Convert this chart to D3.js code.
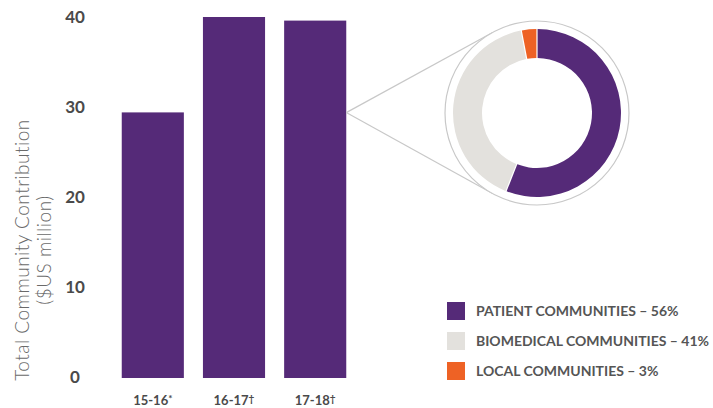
<!DOCTYPE html>
<html>
<head>
<meta charset="utf-8">
<script src="https://cdn.jsdelivr.net/npm/d3@7"></script>
<style>
  body { margin: 0; background: #fff; }
  svg { display: block; font-family: Lato, "Open Sans", sans-serif; }
</style>
</head>
<body>
<div id="chart"></div>
<script>
// bar data: fiscal years and total contribution ($US million)
const years = ["15-16", "16-17", "17-18"];
const yearMarks = ["*", "†", "†"];
const totals = [29.4, 40, 39.6];
const yTicks = [0, 10, 20, 30, 40];

// donut data: split of the latest year
const groups = ["PATIENT COMMUNITIES", "BIOMEDICAL COMMUNITIES", "LOCAL COMMUNITIES"];
const shares = [56, 41, 3];
const groupColors = ["#552a78", "#e3e1dd", "#ee6225"];

const width = 713, height = 408;

const svg = d3.select("#chart").append("svg")
  .attr("width", width)
  .attr("height", height);

const x = d3.scaleBand()
  .domain(years)
  .range([112, 356])
  .paddingInner(0.235)
  .paddingOuter(0.12);

const y = d3.scaleLinear()
  .domain([0, 40])
  .range([377, 17]);

// y tick labels (no axis line)
svg.append("g").selectAll("text")
  .data(yTicks)
  .join("text")
  .attr("x", 75)
  .attr("y", d => y(d))
  .attr("dy", "0.36em")
  .attr("text-anchor", "middle")
  .style("font-size", "17px")
  .style("font-weight", "bold")
  .style("fill", "#4a4a4a")
  .text(d => d);

// axis title, two lines rotated
const title = svg.append("text")
  .attr("transform", "translate(22,250) rotate(-90)")
  .attr("text-anchor", "middle")
  .style("font-size", "19px")
  .style("font-weight", "300")
  .style("letter-spacing", "0.5px")
  .style("fill", "#6a6a6a");
title.append("tspan").attr("x", 0).attr("dy", "0.35em").text("Total Community Contribution");
title.append("tspan").attr("x", 0).attr("dy", "1.2em").text("($US million)");

// bars
svg.append("g").selectAll("rect")
  .data(years)
  .join("rect")
  .attr("x", d => x(d))
  .attr("y", (d, i) => y(totals[i]))
  .attr("width", x.bandwidth())
  .attr("height", (d, i) => y(0) - y(totals[i]) + 1)
  .attr("fill", "#552a78");

// x labels with superscript marks
const xl = svg.append("g").selectAll("text")
  .data(years)
  .join("text")
  .attr("x", d => x(d) + x.bandwidth() / 2)
  .attr("y", 405)
  .attr("text-anchor", "middle")
  .style("font-size", "13px")
  .style("font-weight", "bold")
  .style("fill", "#4a4a4a");
xl.append("tspan").text(d => d);
xl.append("tspan")
  .attr("dy", "-3")
  .style("font-size", "10px")
  .text((d, i) => yearMarks[i]);

// donut
const cx = 537, cy = 113, ringR = 92;
const last = years.length - 1;
const px = x(years[last]) + x.bandwidth(), py = y(totals[last]) + 92;

// tangent lines from bar edge to outline circle
const dist = cx - px;
const a = Math.acos(ringR / dist);
[-1, 1].forEach(s => {
  svg.append("line")
    .attr("x1", px).attr("y1", py)
    .attr("x2", cx - ringR * Math.cos(a))
    .attr("y2", cy + s * ringR * Math.sin(a))
    .attr("stroke", "#c8c8c8")
    .attr("stroke-width", 1.2);
});

svg.append("circle")
  .attr("cx", cx).attr("cy", cy).attr("r", ringR)
  .attr("fill", "#fff")
  .attr("stroke", "#c8c8c8")
  .attr("stroke-width", 1.2);

const pie = d3.pie().sort(null).value(d => d);
const arc = d3.arc().innerRadius(55).outerRadius(84).padAngle(0.012);

svg.append("g")
  .attr("transform", `translate(${cx},${cy})`)
  .selectAll("path")
  .data(pie(shares))
  .join("path")
  .attr("d", arc)
  .attr("fill", (d, i) => groupColors[i]);

// legend
const legend = svg.append("g").selectAll("g")
  .data(groups)
  .join("g")
  .attr("transform", (d, i) => `translate(447,${311 + i * 30})`);
legend.append("rect")
  .attr("y", -9)
  .attr("width", 18)
  .attr("height", 18)
  .attr("fill", (d, i) => groupColors[i]);
legend.append("text")
  .attr("x", 29)
  .attr("dy", "0.36em")
  .style("font-size", "14px")
  .style("font-weight", "bold")
  .style("fill", "#555")
  .text((d, i) => d + " – " + shares[i] + "%");
</script>
</body>
</html>
